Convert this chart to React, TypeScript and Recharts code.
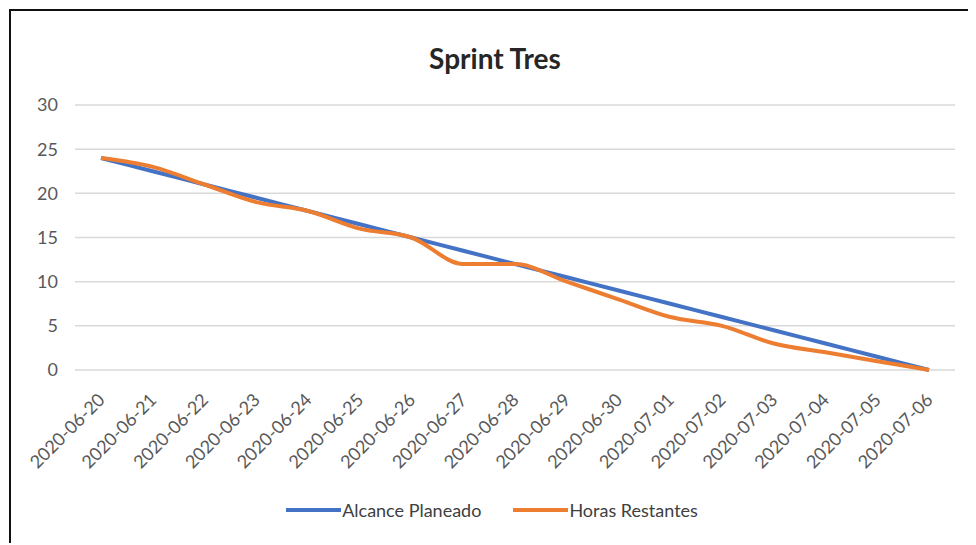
import React from 'react';
import { LineChart, Line, XAxis, YAxis, CartesianGrid, Legend } from 'recharts';

const fechas = [
  '2020-06-20', '2020-06-21', '2020-06-22', '2020-06-23', '2020-06-24', '2020-06-25',
  '2020-06-26', '2020-06-27', '2020-06-28', '2020-06-29', '2020-06-30', '2020-07-01',
  '2020-07-02', '2020-07-03', '2020-07-04', '2020-07-05', '2020-07-06',
];
const alcancePlaneado = [24, 22.5, 21, 19.5, 18, 16.5, 15, 13.5, 12, 10.5, 9, 7.5, 6, 4.5, 3, 1.5, 0];
const horasRestantes = [24, 23, 21, 19, 18, 16, 15, 12, 12, 10, 8, 6, 5, 3, 2, 1, 0];
const yTicks = [0, 5, 10, 15, 20, 25, 30];

const data = fechas.map((fecha, i) => ({
  fecha,
  alcance: alcancePlaneado[i],
  horas: horasRestantes[i],
}));

const FONT = 'Lato, "Open Sans", sans-serif';

const DateTick = (props: any) => {
  const { x, y, payload } = props;
  return (
    <g transform={`translate(${x + 5},${y + 23})`}>
      <text textAnchor="end" transform="rotate(-45)" fill="#595959" fontSize={18} fontFamily={FONT}>
        {payload.value}
      </text>
    </g>
  );
};

const series = [
  { name: 'Alcance Planeado', color: '#4472C4' },
  { name: 'Horas Restantes', color: '#ED7D31' },
];

const LegendBox = () => (
  <div style={{ display: 'flex', justifyContent: 'center', alignItems: 'center', height: 24, paddingLeft: 18 }}>
    {series.map((s, i) => (
      <div key={s.name} style={{ display: 'flex', alignItems: 'center', marginLeft: i === 0 ? 0 : 32 }}>
        <div style={{ width: 55, height: 4, background: s.color, marginRight: 1 }} />
        <span style={{ fontFamily: FONT, fontSize: 18, color: '#404040' }}>{s.name}</span>
      </div>
    ))}
  </div>
);

export default function App() {
  return (
    <div
      style={{
        position: 'relative',
        top: 1,
        left: 1,
        width: 962,
        height: 533,
        borderTop: '2px solid #111',
        borderLeft: '2px solid #111',
        background: '#fff',
      }}
    >
      <div
        style={{
          position: 'absolute',
          top: 30,
          left: 0,
          width: 968,
          textAlign: 'center',
          fontFamily: FONT,
          fontWeight: 700,
          fontSize: 28,
          color: '#262626',
        }}
      >
        Sprint Tres
      </div>
      <LineChart width={958} height={530} data={data} margin={{ top: 94, right: 14, left: 0, bottom: 19 }}>
        <CartesianGrid vertical={false} stroke="#d9d9d9" strokeWidth={1.5} />
        <XAxis
          dataKey="fecha"
          interval={0}
          height={128}
          axisLine={false}
          tickLine={false}
          padding={{ left: 26, right: 26 }}
          tick={<DateTick />}
        />
        <YAxis
          domain={[0, 30]}
          ticks={yTicks}
          width={64}
          axisLine={false}
          tickLine={false}
          tickSize={0}
          tickMargin={17}
          tick={{ fill: '#595959', fontSize: 18, fontFamily: FONT }}
        />
        <Legend verticalAlign="bottom" content={<LegendBox />} />
        <Line
          type="monotone"
          dataKey="alcance"
          name="Alcance Planeado"
          stroke="#4472C4"
          strokeWidth={4}
          dot={false}
          isAnimationActive={false}
        />
        <Line
          type="monotone"
          dataKey="horas"
          name="Horas Restantes"
          stroke="#ED7D31"
          strokeWidth={4}
          dot={false}
          isAnimationActive={false}
        />
      </LineChart>
    </div>
  );
}
